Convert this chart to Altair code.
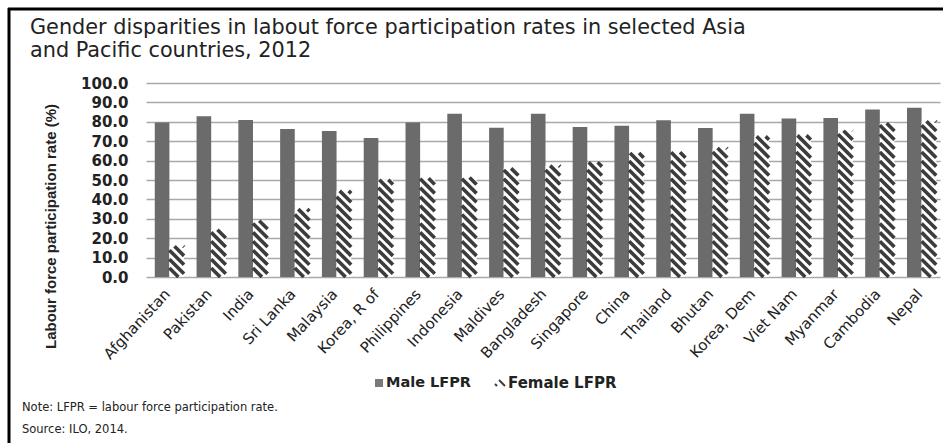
import altair as alt
import pandas as pd

countries = ["Afghanistan", "Pakistan", "India", "Sri Lanka", "Malaysia", "Korea, R of",
             "Philippines", "Indonesia", "Maldives", "Bangladesh", "Singapore", "China",
             "Thailand", "Bhutan", "Korea, Dem", "Viet Nam", "Myanmar", "Cambodia", "Nepal"]
male = [79.7, 82.9, 80.9, 76.3, 75.2, 71.7, 79.7, 84.2, 76.9, 84.1, 77.3, 78.0,
        80.8, 76.8, 84.2, 81.7, 82.0, 86.4, 87.2]
female = [15.8, 24.4, 29.0, 35.0, 44.4, 50.1, 50.9, 51.3, 56.0, 57.4, 59.1, 63.9,
          64.3, 66.5, 72.5, 73.0, 75.4, 79.3, 80.3]
y_ticks = [0, 10, 20, 30, 40, 50, 60, 70, 80, 90, 100]

title_lines = ["Gender disparities in labout force participation rates in selected Asia",
               "and Pacific countries, 2012"]
y_title = "Labour force participation rate (%)"
legend_labels = ["Male LFPR", "Female LFPR"]
note_text = "Note: LFPR = labour force participation rate."
source_text = "Source: ILO, 2014."

# styling constants
W, H = 794, 194
BAR_W = 0.35
MALE_OFF = -0.29
FEM_OFF = 0.06
D = 7.5      # hatch drop across bar width (data units)
S = 4.6      # hatch vertical spacing (data units)
MALE_COLOR = "#6b6b6b"
HATCH_COLOR = "#3c3c3c"
TEXT = "#222222"

df = pd.DataFrame({"idx": list(range(len(countries))), "country": countries,
                   "male": male, "female": female})

xscale = alt.Scale(domain=[-0.5, len(countries) - 0.5], nice=False, zero=False)
yscale = alt.Scale(domain=[0, 100], nice=False)
label_expr = "[" + ",".join("'" + c + "'" for c in countries) + "][datum.value]"

x_axis = alt.Axis(
    values=list(range(len(countries))), labelExpr=label_expr, labelAngle=-47,
    labelAlign="right", labelBaseline="middle", labelPadding=14,
    labelFont="DejaVu Sans", labelFontSize=15, labelColor=TEXT,
    grid=False, ticks=False, domain=False, title=None, labelOverlap=False)
y_axis = alt.Axis(
    values=y_ticks, format=".1f", labelFont="DejaVu Sans",
    labelFontWeight="bold", labelFontSize=15, labelColor=TEXT, labelPadding=18,
    ticks=False, domain=False, labelOverlap=False, grid=True,
    gridColor="#a9a9a9", gridWidth=1.6,
    title=y_title, titleFont="Liberation Sans", titleFontSize=15,
    titleFontWeight="bold", titleColor=TEXT, titleAngle=270, titleX=-96, titleY=143,
    titleAlign="center", titleBaseline="middle")

base = alt.Chart(df)

male_bars = base.transform_calculate(
    x0=f"datum.idx + {MALE_OFF}", x1=f"datum.idx + {MALE_OFF + BAR_W}", zero="0"
).mark_rect(color=MALE_COLOR).encode(
    x=alt.X("x0:Q", scale=xscale, axis=x_axis), x2="x1:Q",
    y=alt.Y("male:Q", scale=yscale, axis=y_axis), y2="zero:Q",
)

female_bg = base.transform_calculate(
    x0=f"datum.idx + {FEM_OFF}", x1=f"datum.idx + {FEM_OFF + BAR_W}", zero="0"
).mark_rect(color="white").encode(
    x=alt.X("x0:Q", scale=xscale, axis=x_axis), x2="x1:Q",
    y=alt.Y("female:Q", scale=yscale, axis=y_axis), y2="zero:Q",
)

hatch = base.transform_calculate(
    k=f"sequence(0, ceil((datum.female + {D}) / {S}) + 1)"
).transform_flatten(["k"]).transform_calculate(
    c=f"datum.k * {S}"
).transform_calculate(
    us=f"max(0, (datum.c - datum.female) / {D})"
).transform_calculate(
    ue=f"min(1, datum.c / {D})"
).transform_filter("datum.us < datum.ue").transform_calculate(
    xa=f"datum.idx + {FEM_OFF} + datum.us * {BAR_W}",
    ya=f"datum.c - {D} * datum.us",
).transform_calculate(
    xb=f"datum.idx + {FEM_OFF} + datum.ue * {BAR_W}",
    yb=f"datum.c - {D} * datum.ue",
).mark_rule(color=HATCH_COLOR, strokeWidth=3.6, strokeCap="butt").encode(
    x=alt.X("xa:Q", scale=xscale, axis=x_axis), x2="xb:Q",
    y=alt.Y("ya:Q", scale=yscale, axis=y_axis), y2="yb:Q",
)

one = pd.DataFrame({"a": [0]})

def txt(text, x, y, size, weight="normal", font="DejaVu Sans", baseline="middle"):
    return alt.Chart(one).mark_text(
        text=text, align="left", baseline=baseline, font=font, fontSize=size,
        fontWeight=weight, color=TEXT
    ).encode(x=alt.value(x), y=alt.value(y))

title1 = txt(title_lines[0], -116, -49, 20.8, baseline="alphabetic")
title2 = txt(title_lines[1], -116, -26, 20.8, baseline="alphabetic")

leg_sq = alt.Chart(one).mark_square(color="#7a7a7a", size=64, opacity=1).encode(
    x=alt.value(233), y=alt.value(300))
leg_male = txt(legend_labels[0], 240, 300, 14.5, "bold")
leg_f1 = alt.Chart(one).mark_rule(color=HATCH_COLOR, strokeWidth=2).encode(
    x=alt.value(353), x2=alt.value(359), y=alt.value(297), y2=alt.value(303))
leg_f2 = alt.Chart(one).mark_rule(color=HATCH_COLOR, strokeWidth=2).encode(
    x=alt.value(349), x2=alt.value(351), y=alt.value(301), y2=alt.value(303))
leg_female = txt(legend_labels[1], 362, 300, 15, "bold")
note = txt(note_text, -124, 325, 11.5)
source = txt(source_text, -124, 347, 11.5)

border_left = alt.Chart(one).mark_rule(color="black", strokeWidth=3).encode(
    x=alt.value(-137), y=alt.value(-75), y2=alt.value(360))
border_top = alt.Chart(one).mark_rule(color="black", strokeWidth=3).encode(
    x=alt.value(-138), x2=alt.value(800), y=alt.value(-74))

chart = alt.layer(
    male_bars, female_bg, hatch, title1, title2, leg_sq, leg_male, leg_f1, leg_f2,
    leg_female, note, source, border_left, border_top
).properties(
    width=W, height=H,
    autosize=alt.AutoSizeParams(type="none"),
    padding={"left": 146, "top": 83, "right": 3, "bottom": 166},
    background="white",
).configure_view(stroke=None)

chart.save("out.html", embed_options={"renderer": "svg", "actions": False})
